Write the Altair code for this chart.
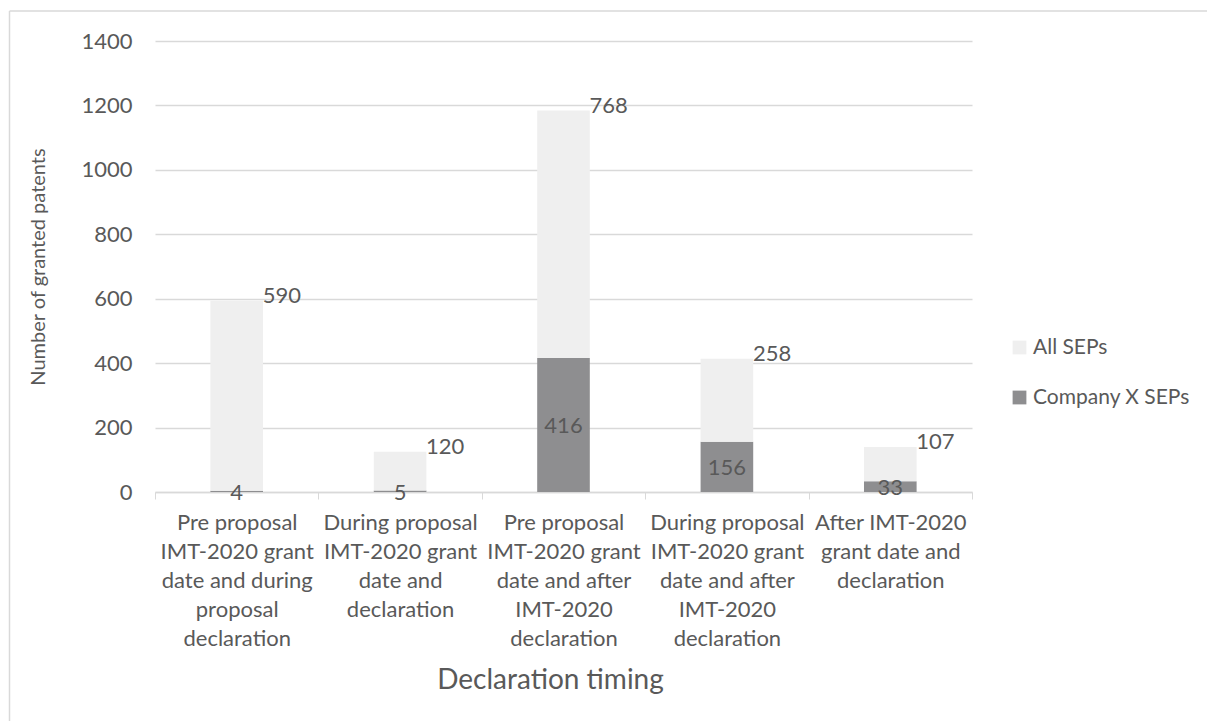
import altair as alt
import pandas as pd

categories = [
    "Pre proposal\nIMT-2020 grant\ndate and during\nproposal\ndeclaration",
    "During proposal\nIMT-2020 grant\ndate and\ndeclaration",
    "Pre proposal\nIMT-2020 grant\ndate and after\nIMT-2020\ndeclaration",
    "During proposal\nIMT-2020 grant\ndate and after\nIMT-2020\ndeclaration",
    "After IMT-2020\ngrant date and\ndeclaration",
]
all_seps = [590, 120, 768, 258, 107]
company_x = [4, 5, 416, 156, 33]
series_names = ["All SEPs", "Company X SEPs"]
series_colors = ["#efefef", "#8e8e90"]
y_ticks = [0, 200, 400, 600, 800, 1000, 1200, 1400]

rows = []
for c, a, x in zip(categories, all_seps, company_x):
    rows.append({"category": c, "series": "Company X SEPs", "value": x, "rank": 0})
    rows.append({"category": c, "series": "All SEPs", "value": a, "rank": 1})
df = pd.DataFrame(rows)

FONT = "Lato"
TXT = "#595959"
FS = 22

x_enc = alt.X(
    "category:N",
    sort=categories,
    scale=alt.Scale(paddingInner=0, paddingOuter=0),
    axis=alt.Axis(
        title="Declaration timing",
        labelExpr="split(datum.label, '\\n')",
        labelAngle=0,
        labelFontSize=FS,
        labelLineHeight=29,
        labelColor=TXT,
        labelFont=FONT,
        labelPadding=13,
        labelLimit=300,
        tickBand="extent",
        tickSize=7,
        tickColor="#d9d9d9",
        domainColor="#d9d9d9",
        domainWidth=1.5,
        grid=False,
        titleFont=FONT,
        titleFontSize=28,
        titleFontWeight="normal",
        titleColor=TXT,
        titleX=395,
        titleY=188,
        titleBaseline="middle",
        titleAlign="center",
    ),
)

bars = alt.Chart(df).mark_bar(width=alt.RelativeBandSize(0.322)).encode(
    x=x_enc,
    y=alt.Y(
        "value:Q",
        stack="zero",
        scale=alt.Scale(domain=[0, 1400], nice=False),
        axis=alt.Axis(
            values=y_ticks,
            format="d",
            domain=False,
            ticks=False,
            grid=True,
            gridColor="#d9d9d9",
            gridWidth=1.5,
            labelFontSize=FS,
            labelColor=TXT,
            labelFont=FONT,
            labelPadding=23,
            title="Number of granted patents",
            titleFont=FONT,
            titleFontSize=20,
            titleFontWeight="normal",
            titleColor=TXT,
            titleX=-117,
            titleY=225.5,
            titleAngle=-90,
            titleAlign="center",
            titleBaseline="middle",
        ),
    ),
    color=alt.Color(
        "series:N",
        scale=alt.Scale(domain=series_names, range=series_colors),
        legend=alt.Legend(
            title=None,
            orient="none",
            legendX=854,
            legendY=296,
            symbolType="square",
            symbolSize=190,
            symbolStrokeWidth=0,
            labelFontSize=21,
            labelFont=FONT,
            labelColor=TXT,
            labelOffset=3,
            rowPadding=28,
        ),
    ),
    order=alt.Order("rank:Q", sort="ascending"),
)

total_text = (
    alt.Chart(df)
    .transform_joinaggregate(total="sum(value)", groupby=["category"])
    .transform_filter(alt.datum.series == "All SEPs")
    .mark_text(align="left", baseline="middle", dx=26, dy=-5, fontSize=FS, font=FONT, color=TXT)
    .encode(
        x=alt.X("category:N", sort=categories),
        y=alt.Y("total:Q"),
        text=alt.Text("value:Q"),
    )
)

company_text = (
    alt.Chart(df)
    .transform_filter(alt.datum.series == "Company X SEPs")
    .transform_calculate(mid="datum.value / 2")
    .mark_text(align="center", baseline="middle", dy=1.5, fontSize=FS, font=FONT, color=TXT)
    .encode(
        x=alt.X("category:N", sort=categories),
        y=alt.Y("mid:Q"),
        text=alt.Text("value:Q"),
    )
)

frame_df = pd.DataFrame({"k": [0]})
frame_left = alt.Chart(frame_df).mark_rule(color="#d9d9d9", strokeWidth=1.5).encode(
    x=alt.value(-145.5), y=alt.value(-30), y2=alt.value(700)
)
frame_top = alt.Chart(frame_df).mark_rule(color="#d9d9d9", strokeWidth=1.5).encode(
    y=alt.value(-30), x=alt.value(-145.5), x2=alt.value(1100)
)

chart = (
    alt.layer(frame_left, frame_top, bars, total_text, company_text)
    .properties(
        width=817,
        height=451,
        autosize=alt.AutoSizeParams(type="none"),
        padding={"left": 155, "top": 41, "right": 235, "bottom": 229},
        background="white",
    )
    .configure_view(stroke=None)
)

chart.save("out.html", embed_options={"renderer": "svg", "actions": False})
